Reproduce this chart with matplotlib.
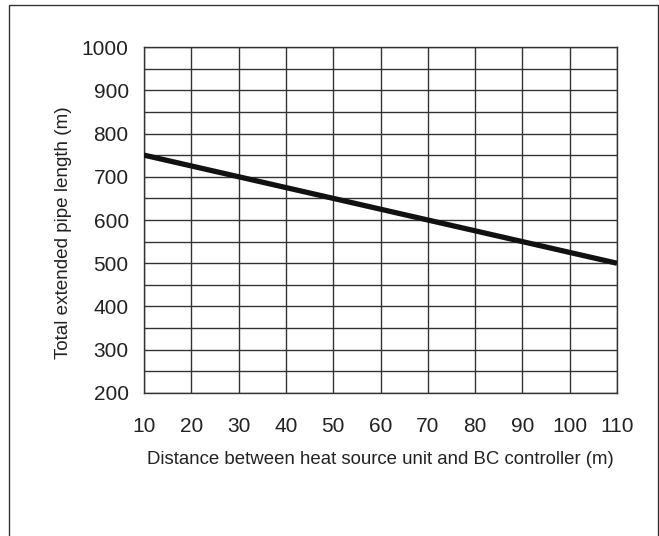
import numpy as np
import matplotlib.pyplot as plt
from matplotlib.patches import Rectangle

plt.rcParams['font.family'] = ['Liberation Sans', 'DejaVu Sans']

# data
distance = [10, 110]
pipe_length = [750, 500]
x_ticks = [10, 20, 30, 40, 50, 60, 70, 80, 90, 100, 110]
y_ticks = [200, 300, 400, 500, 600, 700, 800, 900, 1000]
y_grid = np.arange(200, 1001, 50)

fig = plt.figure(figsize=(6.59, 5.36), dpi=100)
ax = fig.add_axes([0.2185, 0.2668, 0.7178, 0.6455])

# outer frame around the figure (open at the bottom)
fig.patches.append(Rectangle((0.0144, -0.05), 0.9841, 1.0407, transform=fig.transFigure,
                             fill=False, edgecolor='#333333', linewidth=1.0, clip_on=False))

for x in x_ticks:
    ax.axvline(x, color='#333333', linewidth=1.0, zorder=1)
for y in y_grid:
    ax.axhline(y, color='#333333', linewidth=1.0, zorder=1)

ax.plot(distance, pipe_length, color='#111111', linewidth=3.8, solid_capstyle='butt', zorder=3)

ax.set_xlim(10, 110)
ax.set_ylim(200, 1000)
ax.set_xticks(x_ticks)
ax.set_yticks(y_ticks)
ax.tick_params(length=0, labelsize=15, colors='#222222')
ax.tick_params(axis='x', pad=17)
ax.tick_params(axis='y', pad=11)
for s in ax.spines.values():
    s.set_color('#333333')
    s.set_linewidth(1.0)

ax.set_xlabel('Distance between heat source unit and BC controller (m)', fontsize=13.4, labelpad=11, color='#222222')
ax.set_ylabel('Total extended pipe length (m)', fontsize=13.6, color='#222222')
ax.yaxis.set_label_coords(-0.152, 0.462)

fig.savefig('out.png', dpi=100)
